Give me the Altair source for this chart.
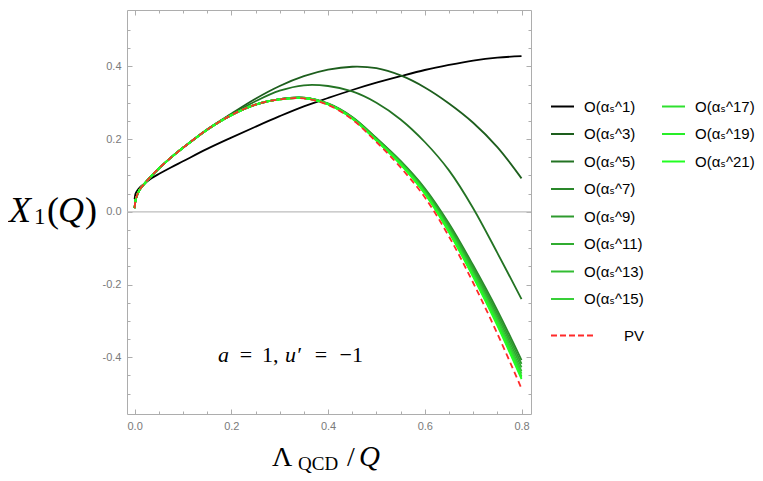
import altair as alt
import pandas as pd

# ---- data ----
X = [0.0, 0.002, 0.005, 0.01, 0.02, 0.035, 0.05, 0.075, 0.1, 0.15, 0.2, 0.25,
     0.3, 0.35, 0.4, 0.45, 0.5, 0.55, 0.6, 0.65, 0.7, 0.75, 0.8]

A1 = [0.035, 0.050, 0.057, 0.066, 0.077, 0.092, 0.104, 0.122, 0.139, 0.173, 0.204, 0.234,
      0.263, 0.290, 0.313, 0.335, 0.355, 0.373, 0.390, 0.404, 0.416, 0.424, 0.428]
A3 = [0.010, 0.032, 0.045, 0.060, 0.077, 0.099, 0.119, 0.149, 0.176, 0.227, 0.270, 0.311,
      0.346, 0.373, 0.391, 0.399, 0.395, 0.375, 0.342, 0.298, 0.245, 0.178, 0.092]
A5 = [0.010, 0.032, 0.045, 0.060, 0.077, 0.099, 0.119, 0.149, 0.176, 0.226, 0.268, 0.304,
      0.333, 0.348, 0.346, 0.331, 0.300, 0.254, 0.192, 0.114, 0.010, -0.113, -0.240]
A7 = [0.010, 0.032, 0.045, 0.060, 0.077, 0.099, 0.119, 0.149, 0.176, 0.226, 0.266, 0.295,
      0.310, 0.314, 0.298, 0.261, 0.203, 0.140, 0.065, -0.032, -0.147, -0.271, -0.408]
A9 = [0.010, 0.032, 0.045, 0.060, 0.077, 0.099, 0.119, 0.149, 0.176, 0.226, 0.266, 0.295,
      0.310, 0.314, 0.297, 0.260, 0.202, 0.139, 0.062, -0.037, -0.153, -0.279, -0.418]
A11 = [0.010, 0.032, 0.045, 0.060, 0.077, 0.099, 0.119, 0.149, 0.176, 0.226, 0.266, 0.295,
       0.310, 0.313, 0.297, 0.259, 0.200, 0.137, 0.059, -0.041, -0.159, -0.287, -0.428]
A13 = [0.010, 0.032, 0.045, 0.060, 0.077, 0.099, 0.119, 0.149, 0.176, 0.226, 0.266, 0.295,
       0.310, 0.313, 0.296, 0.258, 0.199, 0.135, 0.056, -0.046, -0.165, -0.295, -0.438]
A15 = [0.010, 0.032, 0.045, 0.060, 0.077, 0.099, 0.119, 0.149, 0.176, 0.226, 0.266, 0.295,
       0.309, 0.313, 0.296, 0.258, 0.198, 0.133, 0.054, -0.049, -0.170, -0.300, -0.445]
A17 = [0.010, 0.032, 0.045, 0.060, 0.077, 0.099, 0.119, 0.149, 0.176, 0.226, 0.266, 0.295,
       0.309, 0.313, 0.296, 0.257, 0.197, 0.132, 0.052, -0.052, -0.174, -0.306, -0.452]
A19 = [0.010, 0.032, 0.045, 0.060, 0.077, 0.099, 0.119, 0.149, 0.176, 0.226, 0.266, 0.295,
       0.309, 0.313, 0.296, 0.257, 0.196, 0.131, 0.051, -0.054, -0.177, -0.309, -0.456]
A21 = [0.010, 0.032, 0.045, 0.060, 0.077, 0.099, 0.119, 0.149, 0.176, 0.226, 0.266, 0.295,
       0.309, 0.313, 0.295, 0.256, 0.196, 0.130, 0.050, -0.056, -0.179, -0.313, -0.460]
PV = [0.010, 0.032, 0.045, 0.060, 0.077, 0.099, 0.119, 0.149, 0.176, 0.226, 0.266, 0.295,
      0.309, 0.312, 0.294, 0.254, 0.192, 0.122, 0.040, -0.068, -0.195, -0.335, -0.486]

NAMES_A = ["O(αₛ^1)", "O(αₛ^3)", "O(αₛ^5)", "O(αₛ^7)", "O(αₛ^9)",
           "O(αₛ^11)", "O(αₛ^13)", "O(αₛ^15)"]
NAMES_B = ["O(αₛ^17)", "O(αₛ^19)", "O(αₛ^21)"]
NAME_PV = ["PV"]
VALUES_A = [A1, A3, A5, A7, A9, A11, A13, A15]
VALUES_B = [A17, A19, A21]

COLORS_A = ["#000000", "#1d5e1d", "#237323", "#2a872a", "#2e9a2e",
            "#30ac30", "#32bd32", "#38cf38"]
COLORS_B = ["#2fe02f", "#28ee28", "#22ff22"]
COLOR_PV = ["#ff2a2a"]

X_MAJOR = [0.0, 0.2, 0.4, 0.6, 0.8]
X_MINOR = [0.0, 0.05, 0.1, 0.15, 0.2, 0.25, 0.3, 0.35, 0.4, 0.45, 0.5, 0.55,
           0.6, 0.65, 0.7, 0.75, 0.8]
Y_MAJOR = [-0.4, -0.2, 0.0, 0.2, 0.4]
Y_MINOR = [-0.5, -0.45, -0.4, -0.35, -0.3, -0.25, -0.2, -0.15, -0.1, -0.05, 0.0,
           0.05, 0.1, 0.15, 0.2, 0.25, 0.3, 0.35, 0.4, 0.45, 0.5]


def long(names, values):
    return pd.DataFrame([{"x": x, "y": v, "s": n}
                         for n, vals in zip(names, values)
                         for x, v in zip(X, vals)])


df_a = long(NAMES_A, VALUES_A)
df_b = long(NAMES_B, VALUES_B)
df_pv = long(NAME_PV, [PV])

xs = alt.Scale(domain=[-0.0157, 0.8196], nice=False, zero=False)
ys = alt.Scale(domain=[-0.556, 0.555], nice=False, zero=False)

FRAME = "#adadad"
LABEL_FONT = "Liberation Sans, DejaVu Sans"
LEG_FONT = "Liberation Sans, DejaVu Sans"


def legend(x, y, size=529, offset=9, dash=None):
    kw = dict(title=None, orient="none", legendX=x, legendY=y, symbolType="stroke",
              symbolSize=size, symbolStrokeWidth=2, labelFont=LEG_FONT,
              labelFontSize=15, labelColor="black", labelOffset=offset,
              rowPadding=6.5, padding=0, labelLimit=200)
    if dash is not None:
        kw["symbolDash"] = dash
    return alt.Legend(**kw)


def lines(df, names, colors, leg, dash=None):
    mk = dict(strokeWidth=1.8, interpolate="catmull-rom")
    if dash is not None:
        mk["strokeDash"] = dash
    return alt.Chart(df).mark_line(**mk).encode(
        x=alt.X("x:Q", scale=xs, axis=None),
        y=alt.Y("y:Q", scale=ys, axis=None),
        color=alt.Color("s:N", scale=alt.Scale(domain=names, range=colors), legend=leg),
    )


layer_a = lines(df_a, NAMES_A, COLORS_A, legend(423, 84))
layer_b = lines(df_b, NAMES_B, COLORS_B, legend(534, 84))
layer_pv = lines(df_pv, NAME_PV, COLOR_PV,
                 legend(423, 302, size=2025, offset=27, dash=[6, 3]), dash=[6, 4])

zero = alt.Chart(pd.DataFrame({"y": [0.0]})).mark_rule(color="#bdbdbd", strokeWidth=1.2).encode(
    y=alt.Y("y:Q", scale=ys, axis=None))

FMT_Y = "replace(format(datum.value, '.1f'), '\u2212', '-')"
FMT_X = "format(datum.value, '.1f')"


def ax(orient, values, size, labels, expr=None):
    kw = dict(orient=orient, values=values, tickSize=size, offset=-size, domain=False,
              grid=False, labels=labels, tickColor=FRAME, tickWidth=1, title=None)
    if labels:
        kw.update(labelFont=LABEL_FONT, labelFontSize=11, labelColor="#7a7a7a",
                  labelPadding=6, labelExpr=expr)
    return alt.Axis(**kw)


pt = pd.DataFrame({"x": [0.4], "y": [0.0]})


def axis_layer(xa, ya):
    return alt.Chart(pt).mark_point(opacity=0).encode(
        x=alt.X("x:Q", scale=xs, axis=xa), y=alt.Y("y:Q", scale=ys, axis=ya))


axes = [
    axis_layer(ax("bottom", X_MAJOR, 5, True, FMT_X), ax("left", Y_MAJOR, 5, True, FMT_Y)),
    axis_layer(ax("bottom", X_MINOR, 3, False), ax("left", Y_MINOR, 3, False)),
    axis_layer(ax("top", X_MAJOR, 5, False), ax("right", Y_MAJOR, 5, False)),
    axis_layer(ax("top", X_MINOR, 3, False), ax("right", Y_MINOR, 3, False)),
]

one = pd.DataFrame({"a": [1]})


def txt(t, x, y, size, style="normal", align="left", font="Liberation Serif"):
    return alt.Chart(one).mark_text(text=t, align=align, baseline="alphabetic", font=font,
                                    fontSize=size, fontStyle=style, color="black").encode(
        x=alt.value(x), y=alt.value(y))


texts = [
    # y title  X_1(Q)
    txt("X", -118, 211.5, 36, "italic"),
    txt("1", -93, 214, 23),
    txt("(", -80, 211.5, 36),
    txt("Q", -69, 211.5, 36, "italic"),
    txt(")", -42, 211.5, 36),
    # x title  Λ_QCD / Q
    txt("Λ", 145, 456, 28),
    txt("QCD", 171, 460, 19),
    txt("/", 220, 456, 28),
    txt("Q", 232, 456, 29, "italic"),
    # annotation  a = 1, u' = -1
    txt("a", 91, 351.5, 22, "italic"),
    txt("=", 119, 351.5, 22, align="center"),
    txt("1,", 135, 351.5, 22),
    txt("u′", 158, 351.5, 22, "italic"),
    txt("=", 194, 351.5, 22, align="center"),
    txt("−1", 236, 351.5, 22, align="right"),
]

chart = alt.layer(zero, *axes, layer_a, layer_b, layer_pv, *texts).resolve_scale(
    color="independent").resolve_axis(x="independent", y="independent").properties(
    width=404, height=404, autosize=alt.AutoSizeParams(type="none"),
    padding={"left": 119, "top": 2, "right": 224, "bottom": 59},
).configure_view(stroke=FRAME, strokeWidth=1)

chart.save("out.html", embed_options={"renderer": "svg", "actions": False})
